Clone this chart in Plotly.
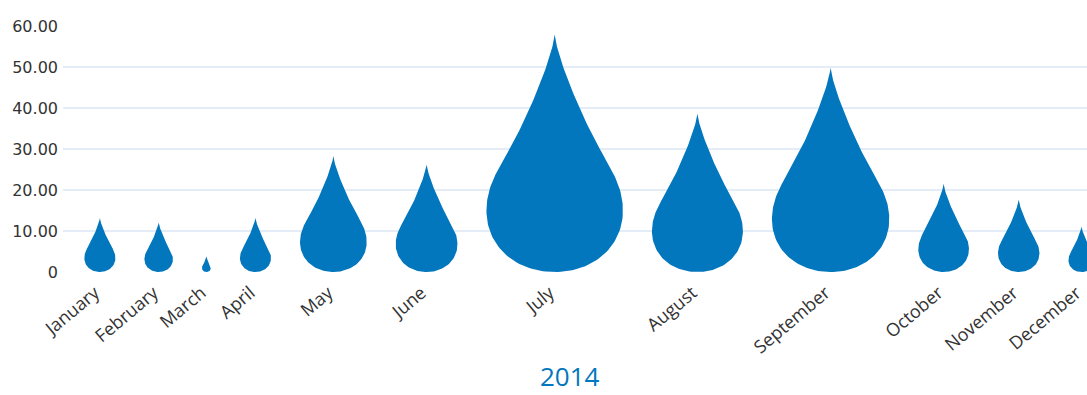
import numpy as np
import plotly.graph_objects as go

# ---- data ----
months = ["January", "February", "March", "April", "May", "June", "July",
          "August", "September", "October", "November", "December"]
rainfall = [13.2, 12.1, 3.8, 13.2, 28.3, 26.2, 57.9, 38.6, 49.8, 21.5, 17.6, 11.1]
y_tick_values = [0, 10, 20, 30, 40, 50, 60]
y_tick_labels = ["0", "10.00", "20.00", "30.00", "40.00", "50.00", "60.00"]
x_title = "2014"

# ---- style / layout constants ----
W, H = 1087, 395
M_L, M_R, M_T, M_B = 63, 0, 26, 123
DROP_COLOR = "#0277bd"
PLOT_W = W - M_L - M_R
PLOT_H = H - M_T - M_B
X_PER_VALUE = 2.357   # drop width (x units) per unit of value
GAP = 29.0            # space between drops (x units)
OFFSET = 21.3         # space before first drop


def bez(p0, p1, p2, p3, n=40):
    t = np.linspace(0, 1, n)[:, None]
    p0, p1, p2, p3 = map(np.array, (p0, p1, p2, p3))
    return (1 - t) ** 3 * p0 + 3 * (1 - t) ** 2 * t * p1 + 3 * (1 - t) * t ** 2 * p2 + t ** 3 * p3


# normalized drop outline (width 1, height 1), right half from tip to bottom
right = np.vstack([
    bez((0, 1), (0.02, 0.9), (0.18, 0.68), (0.30, 0.55)),
    bez((0.30, 0.55), (0.40, 0.443), (0.5, 0.37), (0.5, 0.258))[1:],
    bez((0.5, 0.258), (0.5, 0.11), (0.29, 0), (0, 0))[1:],
])
left = right[::-1][1:] * np.array([-1, 1])
outline = np.vstack([right, left])

fig = go.Figure()
centers = []
pos = OFFSET
for m, v in zip(months, rainfall):
    w = X_PER_VALUE * v
    c = pos + w / 2
    centers.append(c)
    pos += w + GAP
    fig.add_trace(go.Scatter(
        x=c + outline[:, 0] * w,
        y=outline[:, 1] * v,
        mode="lines",
        fill="toself",
        fillcolor=DROP_COLOR,
        line=dict(width=0, color=DROP_COLOR),
        name=m,
        hoverinfo="skip",
        showlegend=False,
    ))

title_center_x = 570

fig.update_layout(
    width=W, height=H,
    margin=dict(l=M_L, r=M_R, t=M_T, b=M_B, pad=0),
    plot_bgcolor="white", paper_bgcolor="white",
    showlegend=False,
    xaxis=dict(
        range=[0, PLOT_W],
        tickvals=centers, ticktext=months,
        tickangle=-40,
        ticklabelshift=-5,
        ticklabelstandoff=6,
        showgrid=False, zeroline=False, showline=False, ticks="",
        tickfont=dict(family="Open Sans", size=18, color="#333333"),
        fixedrange=True,
    ),
    yaxis=dict(
        range=[0, 60],
        tickvals=y_tick_values, ticktext=y_tick_labels,
        showgrid=True, gridcolor="#e4edf7", gridwidth=1.5,
        zeroline=False, showline=False, ticks="",
        tickfont=dict(family="DejaVu Sans", size=16, color="#333333"),
        ticklabelstandoff=4,
        fixedrange=True,
    ),
    annotations=[dict(
        text=x_title, xref="paper", yref="paper",
        x=(title_center_x - M_L) / PLOT_W,
        y=-M_B / PLOT_H,
        xanchor="center", yanchor="bottom", showarrow=False,
        borderpad=0,
        font=dict(family="Open Sans", size=26, color=DROP_COLOR),
    )],
)

fig.write_html("out.html")
